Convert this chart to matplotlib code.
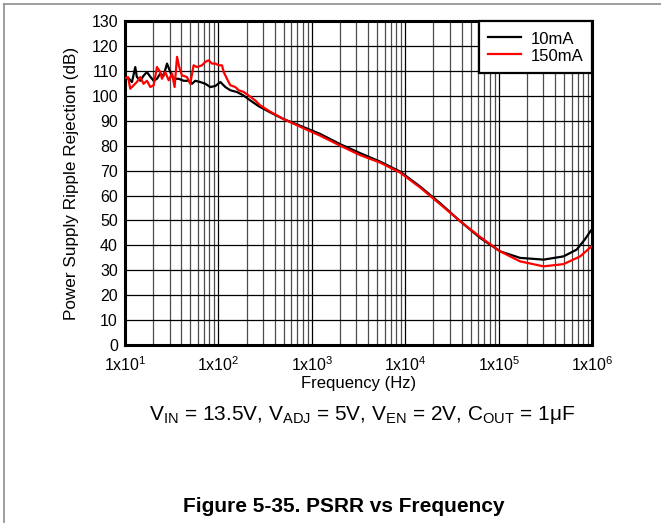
import numpy as np
import matplotlib
matplotlib.use('Agg')
import matplotlib.pyplot as plt
from matplotlib.lines import Line2D
from matplotlib.ticker import LogLocator, NullFormatter

plt.rcParams['font.family'] = ['Liberation Sans', 'DejaVu Sans']
plt.rcParams['mathtext.fontset'] = 'custom'
plt.rcParams['mathtext.rm'] = 'Liberation Sans'
plt.rcParams['mathtext.it'] = 'Liberation Sans'
plt.rcParams['mathtext.bf'] = 'Liberation Sans:bold'

# PSRR measured at 10mA load (Hz, dB)
freq_10ma = [10, 11, 11.9, 12.9, 13.4, 14.6, 15.8, 17.2, 18.7, 20.3, 22, 23.9,
             25.9, 28.2, 30.6, 33.2, 37.6, 42.5, 48.1, 52.2, 56.6, 64, 72.5,
             81.9, 92.7, 105, 118.6, 134, 158, 186, 220, 270, 356, 495, 748,
             1225, 2005, 3280, 5370, 8790, 14400, 23600, 38600, 63200, 103500,
             169000, 301000, 493000, 680000, 830000, 968000, 1000000]
psrr_10ma = [107, 106.9, 105.5, 111.5, 107.6, 106, 108, 109.5, 107.6, 106, 106.8,
             108.9, 108, 112.9, 109.5, 106.8, 106.8, 106, 106, 104.8, 106, 105.5,
             104.8, 103.5, 103.9, 105.5, 103.5, 102.2, 101.5, 100.1, 98.1, 95.8,
             93.4, 90.7, 88.0, 84.7, 80.6, 77.0, 73.6, 69.6, 63.6, 56.9, 49.7,
             43.0, 37.6, 35.0, 34.3, 35.6, 38.3, 42.3, 46.0, 46.4]

# PSRR measured at 150mA load (Hz, dB)
freq_150ma = [10, 10.8, 11.4, 12.4, 13.4, 14.6, 15.8, 17.2, 18.7, 20.3, 22, 23.9,
              24.9, 27, 29.4, 31.9, 34, 36.1, 38.1, 40.7, 46.1, 50, 54.3, 59,
              66.7, 72.5, 78.7, 85.3, 92.7, 100.7, 109.3, 114, 123.6, 134, 151.7,
              164.8, 186.5, 211, 248, 281, 356, 495, 748, 1225, 2005, 3280, 5370,
              8790, 14400, 23600, 38600, 63200, 103500, 169000, 301000, 493000,
              743000, 968000, 1000000]
psrr_150ma = [107, 107.5, 102.8, 104.2, 105.5, 107.5, 104.8, 106, 103.5, 104.2,
              111.5, 109.5, 106.8, 109.5, 106.2, 108.9, 103.5, 115.6, 111.5, 108.2,
              107.5, 104.8, 112.2, 111.5, 112.2, 113.6, 114.2, 112.9, 112.9, 112.2,
              112.2, 109.5, 106.8, 104.2, 103.5, 102.2, 101.5, 100.1, 98.1, 96.1,
              93.7, 90.7, 87.6, 84.0, 80.0, 76.2, 73.2, 69.2, 63.2, 56.5, 49.7,
              43.4, 37.6, 33.6, 31.6, 32.5, 35.6, 39.4, 39.8]

y_ticks = list(range(0, 131, 10))
x_ticks = [1e1, 1e2, 1e3, 1e4, 1e5, 1e6]
x_tick_labels = [r'1x10$^{1}$', r'1x10$^{2}$', r'1x10$^{3}$',
                 r'1x10$^{4}$', r'1x10$^{5}$', r'1x10$^{6}$']

fig = plt.figure(figsize=(6.61, 5.23), dpi=100)
ax = fig.add_axes([0.189, 0.340, 0.707, 0.620])

ax.plot(freq_10ma, psrr_10ma, color='black', lw=1.6, label='10mA', zorder=3)
ax.plot(freq_150ma, psrr_150ma, color='#ff0000', lw=1.6, label='150mA', zorder=4)

ax.set_xscale('log')
ax.set_xlim(1e1, 1e6)
ax.set_ylim(0, 130)
ax.set_yticks(y_ticks)
ax.set_xticks(x_ticks)
ax.set_xticklabels(x_tick_labels)
ax.xaxis.set_minor_locator(LogLocator(base=10, subs=np.arange(2, 10), numticks=20))
ax.xaxis.set_minor_formatter(NullFormatter())
ax.tick_params(which='both', length=0, labelsize=11.5)
ax.tick_params(axis='y', pad=5)
ax.tick_params(axis='x', pad=7)

ax.grid(True, which='major', color='black', lw=0.9)
ax.grid(True, which='minor', axis='x', color='0.3', lw=0.9)
ax.set_axisbelow(True)
for sp in ax.spines.values():
    sp.set_linewidth(2.2)

ax.set_xlabel('Frequency (Hz)', fontsize=12, labelpad=2)
ax.set_ylabel('Power Supply Ripple Rejection (dB)', fontsize=12.3, labelpad=9)

leg = ax.legend(loc='upper right', borderaxespad=0, fontsize=12, fancybox=False,
                framealpha=1, edgecolor='black', handlelength=2.0, handleheight=1.15,
                borderpad=0.55, labelspacing=0.0, handletextpad=0.55)
leg.get_frame().set_linewidth(1.6)

fig.text(0.548, 0.206,
         r'V$_{\mathrm{IN}}$ = 13.5V, V$_{\mathrm{ADJ}}$ = 5V, V$_{\mathrm{EN}}$ = 2V, '
         r'C$_{\mathrm{OUT}}$ = 1μF',
         ha='center', va='center', fontsize=15)
fig.text(0.52, 0.032, 'Figure 5-35. PSRR vs Frequency', ha='center', va='center',
         fontsize=15, fontweight='bold')

# page frame lines along top and left edge
fig.add_artist(Line2D([0.006, 1.0], [0.992, 0.992], transform=fig.transFigure,
                      color='0.55', lw=1.2))
fig.add_artist(Line2D([0.006, 0.006], [0.0, 0.992], transform=fig.transFigure,
                      color='0.55', lw=1.2))

fig.savefig('out.png', dpi=100)
